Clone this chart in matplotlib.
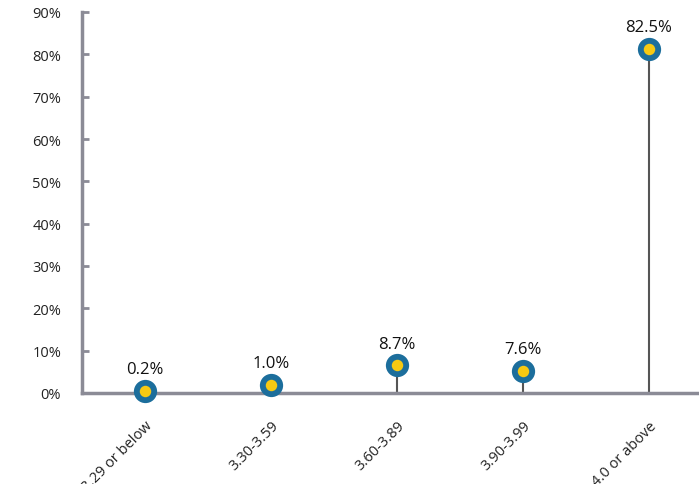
import matplotlib
matplotlib.use("Agg")
import matplotlib.pyplot as plt

# data
categories = ["3.29 or below", "3.30-3.59", "3.60-3.89", "3.90-3.99", "4.0 or above"]
value_labels = ["0.2%", "1.0%", "8.7%", "7.6%", "82.5%"]
plotted_pct = [0.4, 2.0, 6.5, 5.3, 81.2]   # where the dots sit on the axis
y_ticks = [0, 10, 20, 30, 40, 50, 60, 70, 80, 90]


def main():
    plt.rcParams["font.family"] = ["Open Sans", "DejaVu Sans"]

    fig = plt.figure(figsize=(6.99, 4.85), dpi=100)
    ax = fig.add_axes([82 / 699, 91 / 485, 1 - 82 / 699, (394 - 13) / 485])

    x = list(range(len(categories)))
    axis_gray = "#8b8b96"

    # stems
    ax.vlines(x, 0, plotted_pct, color="#555555", linewidth=1.5, zorder=2)

    # dots: blue ring with yellow centre
    ax.scatter(x, plotted_pct, s=280, color="#1c6e9c", zorder=3, clip_on=False,
               linewidths=0)
    ax.scatter(x, plotted_pct, s=68, color="#f7c912", zorder=4, clip_on=False,
               linewidths=0)

    for xi, yi, lab in zip(x, plotted_pct, value_labels):
        ax.annotate(lab, (xi, yi), xytext=(0, 10), textcoords="offset points",
                    ha="center", va="bottom", fontsize=12, color="#111111")

    ax.set_xlim(-0.5, 4.4)
    ax.set_ylim(0, 90)

    ax.set_yticks(y_ticks)
    ax.set_yticklabels([f"{t}%" for t in y_ticks])
    ax.set_xticks(x)
    ax.set_xticklabels(categories, rotation=45, ha="right", rotation_mode="anchor")

    ax.tick_params(axis="y", direction="in", length=5, width=2, color=axis_gray,
                   labelsize=10.5, labelcolor="#222222", pad=15)
    ax.tick_params(axis="x", length=0, labelsize=10.5, labelcolor="#222222", pad=18)

    for side in ["top", "right"]:
        ax.spines[side].set_visible(False)
    for side in ["left", "bottom"]:
        ax.spines[side].set_color(axis_gray)
        ax.spines[side].set_linewidth(2.5)

    fig.savefig("out.png", dpi=100)


if __name__ == "__main__":
    main()
